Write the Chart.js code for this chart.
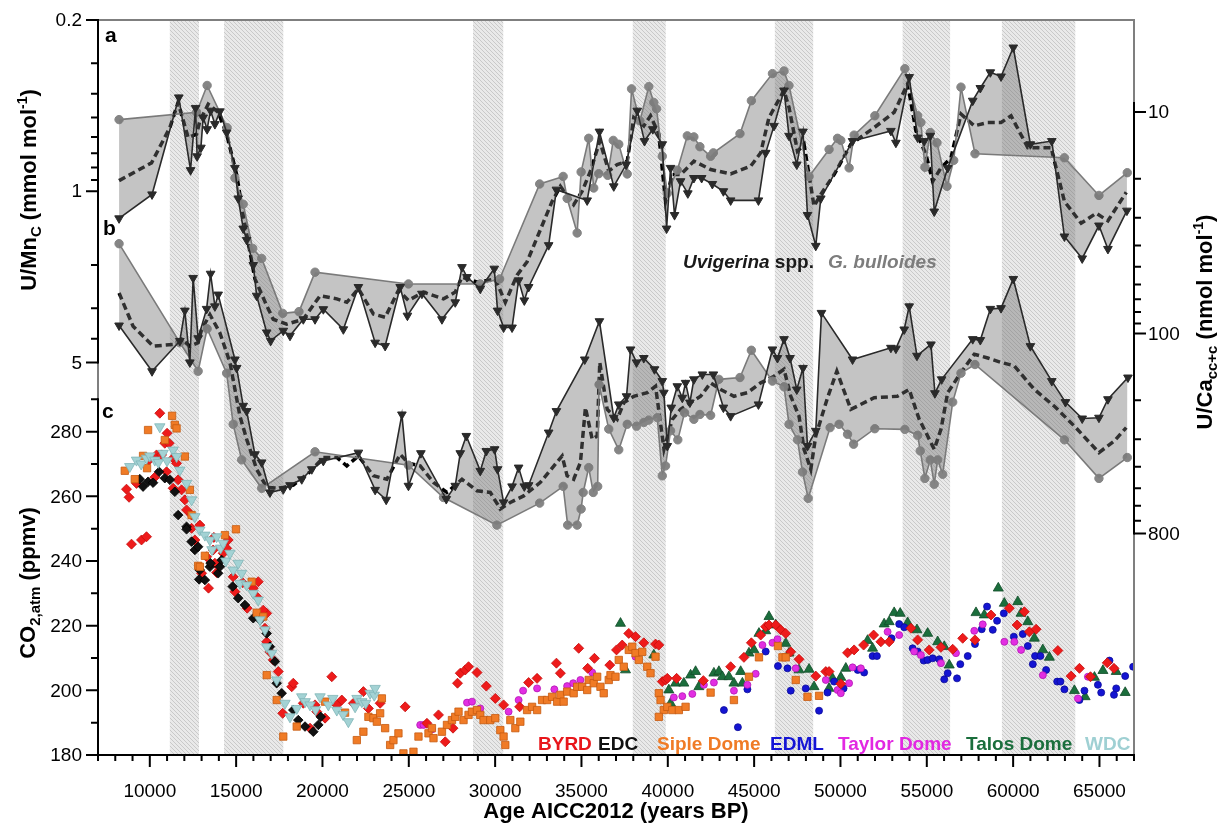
<!DOCTYPE html>
<html>
<head>
<meta charset="utf-8">
<script src="https://cdn.jsdelivr.net/npm/chart.js@4.4.1/dist/chart.umd.min.js"></script>
<style>
  html, body { margin: 0; padding: 0; background: #fff; }
  #wrap { width: 1225px; height: 827px; }
</style>
</head>
<body>
<div id="wrap"><canvas id="chart" width="1225" height="827"></canvas></div>
<script>
// --- tick labels -------------------------------------------------------
const ageTickLabels = [10000, 15000, 20000, 25000, 30000, 35000, 40000, 45000, 50000, 55000, 60000, 65000];
const uMnTicks = [0.2, 1, 5];
const uMnMinor = [0.3, 0.4, 0.5, 0.6, 0.7, 0.8, 0.9, 2, 3, 4];
const co2Ticks = [180, 200, 220, 240, 260, 280];
const co2Minor = [190, 210, 230, 250, 270, 290];
const uCaTicks = [10, 100, 800];
const uCaMinor = [20, 30, 40, 50, 60, 70, 80, 90, 200, 300, 400, 500, 600, 700];

// stadials (grey bands), years BP
const bandStart = [11160, 14300, 28720, 37970, 46200, 53600, 59350];
const bandEnd   = [12850, 17730, 30470, 39880, 48420, 56350, 63600];

// --- (a) U/Mn_c, mmol/mol ---------------------------------------------
const uvigUMn = [[8220,1.29],[10130,1.03],[11680,0.414],[12360,0.82],[12650,0.457],[12740,0.72],[12960,0.664],[13090,0.50],[13320,0.558],[13520,0.469],[13770,0.532],[14060,0.472],[14450,0.576],[14930,0.803],[15120,1.07],[15410,1.42],[15610,1.58],[15990,2.0],[16190,2.67],[16770,3.77],[17000,4.08],[17730,3.71],[18120,3.89],[18890,3.33],[19570,3.33],[20050,3.03],[21210,3.66],[22080,2.46],[23050,4.15],[23630,4.28],[24500,2.46],[24920,3.22],[25760,2.62],[26920,3.33],[27690,2.84],[28080,2.04],[28370,2.24],[29140,2.50],[29950,2.07],[30140,3.07],[30490,3.60],[30980,3.60],[31360,2.31],[31690,2.79],[31940,2.46],[33100,1.66],[33550,0.985],[35330,1.09],[36040,0.571],[36870,0.955],[37590,0.778],[38230,0.469],[38650,0.624],[39130,0.558],[39680,0.643],[39930,1.42],[40160,0.803],[40390,1.25],[40740,0.91],[41160,1.02],[41510,0.883],[41960,0.883],[42580,0.934],[43220,1.0],[43640,1.09],[45250,1.09],[45670,0.697],[46150,0.541],[46730,0.388],[47020,0.594],[47470,0.778],[47830,0.571],[48090,1.25],[48570,1.67],[48860,1.07],[50700,0.624],[52920,0.567],[53210,0.634],[53980,0.342],[54470,0.604],[54850,0.624],[55200,0.594],[55430,1.21],[56210,0.803],[57660,0.427],[58100,0.379],[58680,0.327],[59300,0.340],[60010,0.259],[61000,0.643],[62240,0.624],[62970,1.53],[64000,1.88],[64970,1.38],[65490,1.72],[66590,1.20]];
const bullUMn = [[8220,0.51],[12710,0.476],[13320,0.37],[14480,0.55],[14930,0.883],[15410,1.13],[15960,1.71],[16480,1.88],[17700,3.15],[18640,3.10],[19570,2.14],[24980,2.39],[29140,2.39],[30260,2.28],[32580,0.934],[33940,0.87],[34170,1.07],[34750,1.48],[34980,0.834],[35420,0.608],[35710,0.97],[36000,0.848],[36520,0.861],[36840,0.62],[37160,0.643],[37650,0.85],[37900,0.382],[38380,0.516],[38900,0.374],[39190,0.434],[39350,0.461],[39680,0.72],[39970,1.02],[40550,0.82],[41130,0.594],[41510,0.60],[41860,0.658],[42480,0.72],[42640,0.697],[44180,0.582],[44840,0.427],[46060,0.331],[46730,0.323],[47020,0.37],[48180,0.87],[49340,0.675],[49830,0.608],[50020,0.62],[50500,0.803],[50790,0.59],[51990,0.492],[53730,0.316],[54470,0.492],[54660,0.524],[54890,0.798],[55200,0.576],[55590,0.634],[56170,0.955],[56560,0.748],[56980,0.376],[57790,0.703],[62970,0.73],[64970,1.04],[66610,0.84]];
const meanUMn = [[8220,0.905],[10100,0.766],[11160,0.55],[11640,0.434],[12220,0.604],[12710,0.585],[12900,0.516],[13380,0.441],[13960,0.476],[14450,0.585],[15030,0.855],[15410,1.25],[15800,1.77],[16090,2.28],[16770,2.93],[17150,3.33],[17930,3.49],[18890,3.33],[19860,2.67],[20830,2.75],[21410,2.84],[22080,2.50],[22950,3.17],[23630,3.27],[24400,2.54],[24980,2.79],[25850,2.58],[27010,2.75],[27690,2.58],[28080,2.24],[28950,2.35],[30010,2.28],[30590,2.84],[31270,2.20],[31850,1.94],[33300,1.10],[33780,0.955],[34550,1.135],[35040,1.0],[35520,0.828],[36060,0.624],[36580,0.828],[37070,0.778],[37650,0.754],[38030,0.50],[38610,0.541],[39000,0.492],[39480,0.585],[39870,1.10],[40260,0.855],[40740,0.855],[41510,0.754],[42480,0.815],[43640,0.85],[44800,0.79],[45380,0.697],[45860,0.50],[46730,0.388],[47020,0.455],[47510,0.686],[47890,0.643],[48470,1.15],[48860,1.03],[49630,0.855],[50600,0.643],[51950,0.55],[53110,0.476],[53890,0.364],[54370,0.567],[54950,0.707],[55340,0.911],[55820,0.803],[56400,0.73],[56980,0.484],[57750,0.541],[58530,0.524],[59300,0.524],[59880,0.492],[60850,0.664],[62200,0.664],[62970,1.10],[63940,1.35],[64810,1.23],[65490,1.32],[66550,1.01]];

// --- (b) U/Ca_cc+c, nmol/mol -------------------------------------------
const uvigUCa = [[8220,92.0],[10130,148],[11740,108],[12030,78.8],[12320,135],[12510,56.1],[12800,105],[13290,77.4],[13520,53.7],[13770,75.4],[13960,66.7],[14930,131],[15030,143],[15410,212],[15610,224],[16090,351],[16480,382],[16960,522],[17730,505],[18120,484],[18800,455],[19380,410],[20050,376],[22080,345],[23050,508],[23690,563],[24600,232],[24980,487],[25700,347],[27170,559],[27690,487],[27980,347],[28330,290],[29140,417],[29490,339],[29970,333],[30140,410],[30490,579],[30980,490],[31360,403],[31690,490],[31940,484],[33100,280],[33550,224],[35190,131],[36040,88.0],[36870,240],[37160,209],[37610,192],[37840,118],[38190,135],[38610,129],[39230,145],[39680,164],[39770,185],[39970,322],[40200,216],[40550,173],[40840,195],[41030,167],[41280,205],[41510,161],[42000,153],[42640,153],[43220,216],[43640,236],[45250,209],[46060,118],[46350,129],[46730,106],[47080,129],[47470,179],[47830,143],[48090,322],[48570,275],[48900,80.7],[50700,131],[52920,116],[53210,117],[53690,95.9],[53980,75.4],[54430,126],[55240,112],[55470,186],[55860,161],[57660,106],[58100,107],[58680,77.4],[59300,76.8],[60010,56.7],[61000,114],[62240,164],[63030,204],[64000,242],[64970,240],[65490,198],[66650,158]];
const bullUCa = [[8220,39.3],[11740,110],[12800,148],[13320,95.2],[14450,151],[14830,257],[15320,372],[16480,500],[19570,342],[24980,393],[27010,550],[30100,733],[32580,583],[33940,490],[34200,733],[34750,733],[34980,620],[35100,522],[35420,403],[35680,522],[35940,490],[36020,170],[36580,270],[37160,335],[37650,257],[38190,262],[38610,252],[38900,246],[39390,240],[39680,439],[39870,396],[40160,275],[40580,302],[40970,228],[41510,244],[41860,232],[42480,234],[42960,161],[44180,158],[44840,119],[46060,164],[46730,174],[47020,257],[47510,302],[47800,422],[48130,555],[49400,266],[49920,257],[50410,285],[50760,316],[51990,269],[53730,271],[54470,288],[54620,339],[54890,451],[55200,372],[55430,479],[55630,372],[55920,432],[56500,204],[56980,151],[57790,138],[62970,302],[64970,451],[66610,363]];
const meanUCa = [[8220,65.6],[9030,92.7],[10190,114],[11350,112],[11840,106],[12320,114],[12800,110],[13000,95.9],[13480,82.1],[14060,99.3],[14640,135],[15220,236],[15610,300],[16190,410],[16770,495],[17540,500],[18310,484],[19280,421],[20050,363],[20830,363],[21410,396],[22080,357],[22950,439],[23730,455],[24500,351],[24980,385],[25660,396],[26430,470],[27210,522],[28080,455],[28950,513],[29720,522],[30300,620],[30880,579],[31650,541],[32620,470],[33880,357],[34170,439],[34550,455],[34940,382],[35230,216],[35620,300],[35910,290],[36060,135],[36490,220],[37070,244],[37460,205],[38030,192],[38810,185],[39290,173],[39780,333],[40260,244],[40740,220],[41320,205],[41900,192],[42480,167],[43060,179],[43830,192],[44610,185],[45380,167],[46150,156],[46730,145],[47120,192],[47600,236],[47890,333],[48280,410],[48570,290],[49250,195],[49790,148],[50600,220],[51950,195],[53300,192],[53980,179],[54560,244],[54950,280],[55430,333],[55820,271],[56210,185],[56980,150],[57750,124],[58530,129],[59300,135],[60070,140],[61230,179],[62390,213],[63550,262],[64970,345],[65870,305],[66550,266]];

// --- (c) atmospheric CO2, ppmv ------------------------------------------
const byrd = [[10580,285.7],[11000,279.5],[10870,276.4],[11120,276.4],[9960,271.2],[10390,272.8],[10680,272.8],[11350,271.8],[11550,270.2],[10970,267.6],[10290,265.9],[9230,264.0],[8650,262.2],[8800,259.7],[11640,265.1],[11350,262.5],[11840,262.0],[12030,258.9],[12130,255.8],[12420,254.2],[12900,251.1],[12420,250.1],[13710,247.3],[12610,246.5],[14540,246.5],[13670,243.4],[14450,243.9],[14250,242.4],[13290,241.3],[13770,239.3],[13000,236.2],[13870,236.4],[13400,231.6],[14830,235.1],[15380,233.3],[16280,233.6],[15990,231.6],[14930,230.5],[15640,225.4],[16770,223.8],[8940,245.2],[9520,246.5],[9810,247.5],[16190,229.0],[16570,224.8],[16670,219.2],[16770,215.0],[16960,211.9],[17150,209.4],[17440,205.8],[17700,192.9],[18220,201.1],[18310,202.2],[18890,196.0],[19280,188.3],[19570,195.5],[19670,193.4],[20150,191.4],[20540,204.2],[20830,195.5],[21120,197.0],[21790,196.0],[22370,199.6],[22660,194.4],[23340,196.0],[24790,194.9],[26050,189.8],[26720,192.4],[27110,184.1],[27560,188.3],[27820,202.2],[27980,205.3],[28270,206.3],[28460,207.3],[28950,205.5],[29490,201.3],[30010,197.5],[30490,195.5],[31420,194.9],[31940,202.4],[32430,203.7],[33550,208.4],[33780,205.3],[34840,213.0],[35360,206.8],[35750,209.9],[36640,207.8],[37030,212.5],[37360,214.0],[37740,217.6],[38130,216.6],[38610,214.7],[39290,214.3],[39480,214.0],[39680,202.7],[39870,203.2],[39970,203.7],[40510,203.7],[42060,203.0],[43640,207.3],[44410,210.2],[44840,214.7],[45380,217.1],[45670,219.7],[45860,220.2],[46250,220.2],[46540,218.7],[46830,217.6],[47120,211.9],[47600,209.6],[48570,204.4],[49150,205.8],[49340,205.8],[50020,202.0],[50410,211.6],[50790,212.5],[51340,214.0],[51920,217.1],[52340,215.0],[52820,215.0],[54080,219.2],[54470,215.6],[55140,212.5],[55820,213.3],[56500,212.7],[57080,216.1],[57790,215.6],[58720,223.3],[59780,225.4],[60230,220.2],[60650,224.3],[60940,218.1],[61330,218.9],[62590,212.3],[63360,204.4],[63840,206.8],[64480,204.2],[65450,208.5],[65840,206.8]];
const edc = [[9420,265.3],[9610,263.0],[9900,264.5],[10190,264.2],[10540,267.6],[10870,265.6],[11160,265.1],[11450,261.4],[11640,254.2],[12130,250.6],[12130,249.8],[12420,246.0],[12610,243.4],[12800,244.4],[12860,234.3],[12900,237.2],[13190,234.1],[13480,238.2],[13520,239.3],[13960,236.2],[14060,238.2],[14160,240.3],[14800,232.1],[15120,228.5],[15510,226.4],[15990,222.3],[16380,221.8],[16770,217.6],[16960,213.5],[17250,208.9],[17350,202.2],[17640,199.1],[18310,193.9],[18600,190.8],[18990,188.8],[19470,187.2],[19760,189.3],[19900,191.8]];
const siple = [[11290,284.9],[9900,280.5],[11450,282.1],[11550,281.0],[10870,277.4],[12030,272.3],[9610,272.5],[8550,267.9],[9130,265.3],[9840,268.7],[12320,262.0],[12420,254.2],[14990,249.8],[14350,248.0],[13190,241.6],[12800,238.5],[16190,224.0],[15900,233.6],[12900,238.2],[16570,222.8],[16770,204.7],[17350,197.0],[17730,185.7],[18510,188.8],[20150,196.5],[21310,193.1],[21990,184.6],[22370,187.2],[22660,191.8],[22950,191.4],[23150,190.3],[23340,192.9],[23440,197.5],[23630,188.3],[23920,183.1],[24110,184.6],[24400,186.7],[24690,180.5],[25270,181.0],[25560,185.7],[26140,186.7],[26340,188.3],[26430,185.2],[26920,187.2],[27210,189.3],[27500,190.8],[27690,191.8],[27880,193.4],[28170,190.8],[28460,192.4],[28660,193.4],[28950,193.9],[29140,192.4],[29330,190.8],[29720,190.8],[30010,191.4],[30300,187.7],[30490,185.7],[30590,183.1],[30880,190.8],[31170,188.3],[31460,190.3],[31850,193.9],[32140,194.9],[32430,193.9],[32720,197.0],[33010,197.0],[33300,198.0],[33590,196.5],[33780,198.6],[33970,196.5],[34170,199.6],[34550,199.1],[34750,201.1],[35040,201.1],[35330,200.1],[35420,203.2],[35710,202.2],[35910,204.2],[36100,201.1],[36290,199.1],[36580,203.2],[36680,204.7],[36970,204.2],[37160,209.4],[37450,207.3],[37740,212.5],[37940,213.5],[38130,211.5],[38320,209.4],[38520,211.9],[38810,207.3],[39000,205.3],[39290,210.4],[39480,199.1],[39580,197.0],[39770,193.9],[39970,194.9],[40260,193.9],[40640,193.9],[41030,194.9],[39480,191.8],[42480,199.3],[43830,197.0],[44700,204.2],[45280,210.2],[46380,213.7],[46640,210.2],[46830,210.2],[47410,203.2],[48090,198.0],[48760,198.3]];
const edml = [[43250,193.9],[44060,188.6],[44610,200.3],[45670,212.0],[46380,207.5],[46930,206.8],[47120,199.9],[47990,200.6],[48760,193.7],[49250,199.3],[49630,202.7],[50180,200.6],[51000,206.3],[51370,205.5],[51860,210.6],[52110,210.6],[52960,216.1],[53400,220.5],[53690,219.5],[54180,213.0],[54470,212.0],[54820,209.2],[55050,209.4],[55340,209.9],[55720,209.6],[56010,203.4],[56210,205.3],[56750,203.7],[56940,208.1],[57370,210.6],[57790,214.3],[58180,218.9],[58490,225.9],[58820,218.7],[59070,221.5],[59460,223.8],[60040,216.6],[60560,217.4],[60850,213.7],[61140,208.1],[61270,210.6],[61580,210.6],[61910,206.3],[62550,202.7],[62740,202.7],[62970,200.3],[63840,197.0],[64130,199.9],[64910,201.7],[65100,199.3],[65580,209.2],[65840,198.6],[65970,200.6],[66490,204.4],[66950,207.3]];
const taylor = [[25660,189.3],[25850,189.3],[26340,187.9],[28370,196.2],[28660,196.5],[29140,194.4],[30780,193.4],[31360,197.0],[31620,199.9],[32430,200.6],[33430,200.3],[34170,201.3],[34520,202.2],[34940,203.2],[35620,205.5],[37840,212.5],[38130,210.4],[40350,197.8],[40840,198.2],[41420,198.9],[42090,201.7],[42670,202.4],[43830,199.9],[44610,201.7],[45090,205.1],[45480,214.0],[46060,214.7],[46350,215.8],[47410,206.8],[49150,203.2],[49830,200.1],[50020,199.1],[50500,202.2],[50700,207.1],[51180,206.8],[52730,218.1],[53400,217.1],[54270,212.0],[54660,210.9],[55820,208.4],[56690,211.5],[57750,218.4],[58240,220.4],[59490,215.0],[60070,215.0],[60460,212.5],[61720,204.7],[63750,197.5],[64330,204.2]];
const talos = [[37260,220.7],[37550,206.3],[39190,210.9],[40060,200.1],[40160,196.0],[40450,202.2],[40930,202.2],[41320,204.7],[41610,205.8],[41800,201.1],[42670,205.3],[42960,205.8],[43160,204.2],[43540,204.2],[43830,202.2],[44220,205.8],[44320,202.2],[44700,211.5],[44990,212.5],[45280,217.6],[45670,218.4],[45860,222.8],[46250,220.2],[46830,214.5],[47020,211.5],[47600,206.3],[48180,206.5],[48470,201.1],[49340,200.6],[49540,203.7],[50020,204.0],[50310,206.8],[51570,215.4],[51860,213.0],[52530,220.5],[52820,221.2],[53110,224.0],[53460,223.8],[53890,220.9],[54430,218.7],[55050,217.6],[55630,215.0],[56010,213.5],[56300,207.8],[57850,224.0],[58330,223.3],[59140,231.6],[59490,226.9],[60270,227.4],[60460,223.8],[60850,221.2],[61230,216.1],[61720,212.5],[62100,210.2],[63550,199.9],[64170,198.0],[64710,204.0],[65200,206.1],[65970,205.8],[66490,199.3]];
const wdc = [[8840,269.2],[9230,271.2],[9500,270.0],[9810,271.8],[10000,272.5],[10290,271.2],[10500,270.5],[10580,281.5],[10770,273.3],[11000,271.0],[11350,274.3],[11550,272.3],[11740,268.1],[12130,264.0],[12420,258.9],[12610,253.7],[12900,249.6],[13190,248.0],[13480,246.5],[13600,243.5],[13870,247.5],[14100,244.0],[14250,245.5],[14400,240.0],[14640,242.4],[14830,237.2],[15120,239.3],[15220,233.1],[15320,236.2],[15610,232.6],[15990,230.0],[16280,227.9],[16380,221.8],[16670,218.7],[16770,213.5],[17060,211.5],[17350,203.2],[17830,196.0],[18120,191.8],[18510,194.4],[18800,198.0],[19000,196.5],[19280,195.5],[19600,194.0],[19860,198.0],[20340,195.5],[20600,197.5],[20830,193.9],[21200,192.5],[21500,190.3],[21890,194.9],[22000,197.5],[22280,196.5],[22500,196.0],[22760,199.1],[23000,198.5],[23050,200.6]];

const FONT = '"Liberation Sans", Arial, sans-serif';
const FILL = 'rgba(115,115,115,0.42)';
const pts = arr => arr.map(([x, y]) => ({ x, y }));

function foram(label, data, axis, kind) {
  const dark = kind === 'uvig';
  return {
    label, data: pts(data), yAxisID: axis,
    borderColor: dark ? '#2a2a2a' : '#7d7d7d',
    borderWidth: 1.6,
    backgroundColor: FILL,
    fill: dark ? '+1' : false,
    pointStyle: dark ? 'triangle' : 'circle',
    pointRotation: dark ? 180 : 0,
    pointRadius: dark ? 5 : 4.2,
    pointBackgroundColor: dark ? '#2a2a2a' : '#858585',
    pointBorderColor: dark ? '#2a2a2a' : '#858585',
    pointBorderWidth: 1
  };
}
function meanLine(label, data, axis) {
  return {
    label, data: pts(data), yAxisID: axis,
    borderColor: '#000', borderWidth: 3.5, borderDash: [7, 4],
    pointRadius: 0, fill: false
  };
}
function ice(label, data, style, color, edge, radius, rot) {
  return {
    label, data: pts(data), yAxisID: 'yC', showLine: false, fill: false,
    pointStyle: style, pointRotation: rot || 0, pointRadius: radius,
    pointBackgroundColor: color, pointBorderColor: edge, pointBorderWidth: 0.8
  };
}

function makeHatch(ctx) {
  const c = document.createElement('canvas');
  c.width = 4; c.height = 4;
  const g = c.getContext('2d');
  g.fillStyle = '#e9e9e9';
  g.fillRect(0, 0, 4, 4);
  g.strokeStyle = '#c9c9c9';
  g.lineWidth = 1;
  g.beginPath();
  g.moveTo(0, 0); g.lineTo(4, 4);
  g.moveTo(-1, 3); g.lineTo(1, 5);
  g.moveTo(3, -1); g.lineTo(5, 1);
  g.stroke();
  return ctx.createPattern(c, 'repeat');
}

const bandsPlugin = {
  id: 'bands',
  beforeDatasetsDraw(chart) {
    const { ctx, chartArea: a, scales: { x } } = chart;
    ctx.save();
    ctx.fillStyle = makeHatch(ctx);
    bandStart.forEach((s, i) => {
      const x0 = x.getPixelForValue(s);
      const x1 = x.getPixelForValue(bandEnd[i]);
      ctx.fillRect(x0, a.top, x1 - x0, a.bottom - a.top);
    });
    ctx.restore();
  }
};

// text with sub/superscripts, centred on (cx, cy)
function drawRich(ctx, parts, cx, cy, angle) {
  ctx.save();
  ctx.translate(cx, cy);
  ctx.rotate(angle);
  ctx.textAlign = 'left';
  ctx.textBaseline = 'alphabetic';
  let total = 0;
  parts.forEach(p => { ctx.font = p.font; p.w = ctx.measureText(p.t).width; total += p.w; });
  let x = -total / 2;
  parts.forEach(p => {
    ctx.font = p.font;
    ctx.fillStyle = p.color || '#000';
    ctx.fillText(p.t, x, 8 + (p.dy || 0));
    x += p.w;
  });
  ctx.restore();
}

const axesPlugin = {
  id: 'axes',
  afterDraw(chart) {
    const { ctx, chartArea: a, scales: { x, yU, yR, yC } } = chart;
    const L = a.left, R = a.right, B = a.bottom, T = a.top;
    ctx.save();
    ctx.lineCap = 'butt';
    // grey frame
    ctx.strokeStyle = '#7f7f7f';
    ctx.lineWidth = 2;
    ctx.beginPath();
    ctx.moveTo(L, T); ctx.lineTo(R, T); ctx.lineTo(R, B);
    ctx.moveTo(L, T); ctx.lineTo(L, B);
    ctx.stroke();
    // black axis segments
    ctx.strokeStyle = '#000';
    ctx.beginPath();
    ctx.moveTo(L, yU.getPixelForValue(0.2) - 1); ctx.lineTo(L, yU.getPixelForValue(5) + 1);
    ctx.moveTo(L, yC.getPixelForValue(290) - 1); ctx.lineTo(L, B);
    ctx.moveTo(L - 1, B); ctx.lineTo(R + 1, B);
    ctx.moveTo(R, yR.getPixelForValue(9)); ctx.lineTo(R, yR.getPixelForValue(800) + 1);
    ctx.stroke();
    // ticks
    ctx.beginPath();
    const hl = (s, v, len) => { const y = s.getPixelForValue(v); ctx.moveTo(L, y); ctx.lineTo(L - len, y); };
    const hr = (v, len) => { const y = yR.getPixelForValue(v); ctx.moveTo(R, y); ctx.lineTo(R + len, y); };
    uMnTicks.forEach(v => hl(yU, v, 12));
    uMnMinor.forEach(v => hl(yU, v, 7));
    co2Ticks.forEach(v => hl(yC, v, 12));
    co2Minor.forEach(v => hl(yC, v, 7));
    uCaTicks.forEach(v => hr(v, 12));
    uCaMinor.forEach(v => hr(v, 7));
    for (let t = 7000; t <= 67000; t += 1000) {
      const px = x.getPixelForValue(t);
      ctx.moveTo(px, B); ctx.lineTo(px, B + (t % 5000 === 0 ? 12 : 6));
    }
    ctx.stroke();
    // tick labels
    ctx.fillStyle = '#000';
    ctx.font = '19px ' + FONT;
    ctx.textAlign = 'right';
    ctx.textBaseline = 'middle';
    uMnTicks.forEach(v => ctx.fillText(String(v), L - 16, yU.getPixelForValue(v) + 1));
    co2Ticks.forEach(v => ctx.fillText(String(v), L - 16, yC.getPixelForValue(v) + 1));
    ctx.textAlign = 'left';
    uCaTicks.forEach(v => ctx.fillText(String(v), R + 14, yR.getPixelForValue(v) + 1));
    ctx.textAlign = 'center';
    ctx.textBaseline = 'alphabetic';
    ageTickLabels.forEach(t => ctx.fillText(String(t), x.getPixelForValue(t), 797));

    // axis titles
    const b22 = 'bold 22px ' + FONT, b15 = 'bold 15px ' + FONT, b14 = 'bold 14px ' + FONT;
    ctx.font = b22;
    ctx.fillText('Age AICC2012 (years BP)', 616, 818);
    drawRich(ctx, [
      { t: 'U/Mn', font: b22 }, { t: 'C', font: b15, dy: 5 },
      { t: ' (mmol mol', font: b22 }, { t: '-1', font: b14, dy: -9 }, { t: ')', font: b22 }
    ], 28, 190, -Math.PI / 2);
    drawRich(ctx, [
      { t: 'CO', font: b22 }, { t: '2,atm', font: b15, dy: 5 }, { t: ' (ppmv)', font: b22 }
    ], 27, 583, -Math.PI / 2);
    drawRich(ctx, [
      { t: 'U/Ca', font: b22 }, { t: 'cc+c', font: b15, dy: 5 },
      { t: ' (nmol mol', font: b22 }, { t: '-1', font: b14, dy: -9 }, { t: ')', font: b22 }
    ], 1204, 322, -Math.PI / 2);

    // panel letters
    ctx.textAlign = 'left';
    ctx.font = 'bold 21px ' + FONT;
    ctx.fillText('a', 105, 42);
    ctx.fillText('b', 103, 235);
    ctx.fillText('c', 102, 418);

    // species labels
    ctx.font = 'italic bold 19px ' + FONT;
    ctx.fillStyle = '#1a1a1a';
    ctx.fillText('Uvigerina', 683, 268);
    const w1 = ctx.measureText('Uvigerina').width;
    ctx.font = 'bold 19px ' + FONT;
    ctx.fillText(' spp.', 683 + w1, 268);
    ctx.font = 'italic bold 19px ' + FONT;
    ctx.fillStyle = '#7d7d7d';
    ctx.fillText('G. bulloides', 828, 268);

    // ice-core legend
    const legend = [
      ['BYRD', '#e8161b', 538], ['EDC', '#111111', 598], ['Siple Dome', '#f07b26', 657],
      ['EDML', '#1515d5', 770], ['Taylor Dome', '#e228e2', 838], ['Talos Dome', '#1a6e3c', 966],
      ['WDC', '#9fd0d3', 1085]
    ];
    ctx.font = 'bold 19px ' + FONT;
    legend.forEach(([t, c, lx]) => { ctx.fillStyle = c; ctx.fillText(t, lx, 750); });
    ctx.restore();
  }
};

new Chart(document.getElementById('chart'), {
  type: 'line',
  data: {
    datasets: [
      ice('WDC', wdc, 'triangle', '#a3d2d4', '#7fb5b8', 6, 180),
      ice('Siple Dome', siple, 'rect', '#f07b26', '#c65a10', 5.2),
      ice('EDC', edc, 'rectRot', '#111111', '#000000', 4.8),
      ice('BYRD', byrd, 'rectRot', '#ee1b1b', '#c40d0d', 5),
      ice('Taylor Dome', taylor, 'circle', '#e22ee2', '#b318b3', 3.5),
      ice('EDML', edml, 'circle', '#1414d2', '#0b0b9a', 3.5),
      ice('Talos Dome', talos, 'triangle', '#1b6e3c', '#124d2a', 5.8),
      foram('Uvigerina U/Mn', uvigUMn, 'yU', 'uvig'),
      foram('G. bulloides U/Mn', bullUMn, 'yU', 'bull'),
      meanLine('mean U/Mn', meanUMn, 'yU'),
      foram('Uvigerina U/Ca', uvigUCa, 'yR', 'uvig'),
      foram('G. bulloides U/Ca', bullUCa, 'yR', 'bull'),
      meanLine('mean U/Ca', meanUCa, 'yR')
    ]
  },
  options: {
    responsive: false,
    animation: false,
    events: [],
    devicePixelRatio: 1,
    layout: { padding: { left: 98, right: 91, top: 20, bottom: 72 } },
    elements: { line: { tension: 0 } },
    plugins: {
      legend: { display: false },
      tooltip: { enabled: false },
      filler: { propagate: false }
    },
    scales: {
      x: { type: 'linear', min: 7000, max: 67000, bounds: 'data', display: false },
      yU: { type: 'logarithmic', reverse: true, min: 0.2, max: 200, bounds: 'data', display: false },
      yR: { type: 'logarithmic', reverse: true, min: 3.84, max: 8000, bounds: 'data', display: false },
      yC: { type: 'linear', min: 180, max: 407.3, bounds: 'data', display: false }
    }
  },
  plugins: [bandsPlugin, axesPlugin]
});
</script>
</body>
</html>
